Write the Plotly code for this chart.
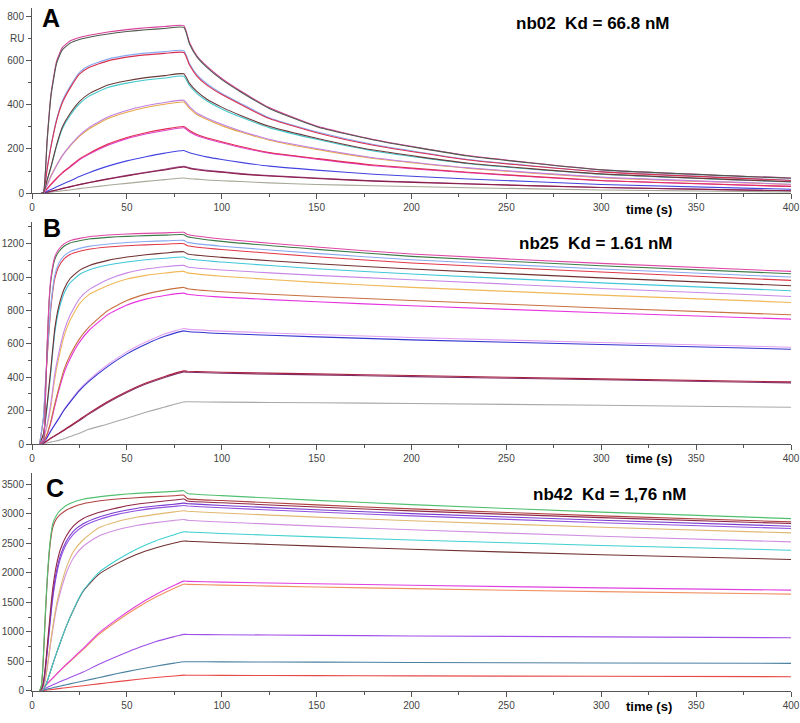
import plotly.graph_objects as go

# ---------------- Panel A (nb02) ----------------
tA = [5, 6, 8, 10, 13, 16, 20, 25, 30, 40, 50, 60, 70, 80, 83, 87, 92, 100, 110, 125, 150, 180, 230, 300, 400]
A_gray_hi = [0, 0, 240, 440, 590, 650, 680, 697, 707, 722, 733, 741, 747, 752, 677, 617, 572, 515, 459, 384, 301, 241, 168, 105, 67]
A_magenta_hi = [0, 0, 245, 450, 600, 660, 690, 706, 716, 731, 742, 750, 756, 760, 683, 622, 577, 520, 463, 388, 304, 243, 170, 106, 68]
A_red_2 = [0, 0, 110, 210, 330, 410, 475, 540, 570, 600, 617, 627, 634, 638, 581, 530, 491, 447, 402, 338, 274, 217, 150, 96, 57]
A_lblue_2 = [0, 0, 112, 214, 336, 418, 483, 548, 578, 608, 625, 635, 642, 646, 588, 536, 497, 452, 407, 342, 278, 220, 152, 97, 58]
A_brown_3 = [0, 0, 60, 120, 220, 300, 360, 415, 450, 490, 510, 524, 533, 541, 498, 460, 427, 390, 352, 303, 249, 195, 135, 87, 51]
A_cyan_3 = [0, 0, 58, 116, 214, 292, 351, 405, 440, 479, 499, 513, 522, 530, 488, 451, 419, 382, 345, 297, 244, 191, 133, 85, 50]
A_violet_4 = [0, 0, 35, 75, 125, 170, 215, 262, 297, 345, 375, 396, 411, 421, 392, 362, 341, 312, 282, 244, 202, 160, 114, 72, 40]
A_orange_4 = [0, 0, 38, 78, 127, 170, 212, 257, 291, 338, 367, 388, 403, 413, 384, 355, 335, 306, 277, 240, 198, 157, 112, 70, 39]
A_red_5 = [0, 0, 20, 40, 68, 93, 120, 155, 180, 222, 252, 274, 290, 302, 284, 266, 251, 233, 211, 184, 157, 127, 94, 57, 30]
A_magenta_5 = [0, 0, 19, 38, 66, 90, 117, 151, 176, 217, 247, 268, 284, 296, 278, 260, 246, 228, 207, 181, 154, 124, 92, 56, 30]
A_blue_6 = [0, 0, 8, 16, 28, 40, 55, 75, 92, 122, 146, 165, 181, 193, 183, 174, 164, 152, 139, 122, 104, 85, 64, 39, 17]
A_maroon_7 = [0, 0, 4, 8, 14, 20, 28, 38, 47, 63, 78, 92, 105, 118, 112, 106, 100, 94, 86, 77, 66, 54, 41, 25, 10]
A_purple_7 = [0, 0, 4, 8, 14, 21, 29, 39, 48, 65, 80, 94, 108, 121, 115, 109, 103, 97, 88, 79, 68, 56, 42, 25, 10]
A_gray_8 = [0, 0, 2, 4, 7, 10, 14, 20, 25, 35, 44, 53, 61, 68, 65, 63, 59, 56, 52, 46, 39, 33, 24, 14, 5]

seriesA = [
    (A_gray_8, "#a8a898"), (A_purple_7, "#a04890"), (A_maroon_7, "#8a2048"),
    (A_blue_6, "#4444e0"), (A_magenta_5, "#e040c8"), (A_red_5, "#e03058"),
    (A_orange_4, "#e8a848"), (A_violet_4, "#c080e0"), (A_cyan_3, "#40c8cc"),
    (A_brown_3, "#6a3a3a"), (A_lblue_2, "#88aaf0"), (A_red_2, "#d83050"),
    (A_magenta_hi, "#d8409a"), (A_gray_hi, "#4e5a4e"),
]

# ---------------- Panel B (nb25) ----------------
tB = [4, 6, 7, 8, 9, 10, 12, 14, 17, 20, 25, 30, 40, 50, 60, 70, 80, 82, 100, 150, 200, 300, 400]
B_magenta = [0, 20, 250, 600, 860, 1000, 1120, 1165, 1200, 1218, 1232, 1242, 1252, 1258, 1262, 1265, 1268, 1255, 1228, 1180, 1138, 1082, 1034]
B_green = [0, 18, 240, 585, 845, 985, 1105, 1150, 1186, 1204, 1218, 1228, 1238, 1244, 1248, 1251, 1254, 1242, 1214, 1166, 1124, 1068, 1020]
B_lblue = [0, 160, 350, 540, 700, 840, 1010, 1080, 1128, 1152, 1172, 1184, 1198, 1207, 1213, 1217, 1220, 1208, 1185, 1142, 1104, 1048, 1000]
B_red = [0, 150, 335, 520, 680, 820, 990, 1060, 1110, 1135, 1155, 1167, 1180, 1188, 1193, 1197, 1200, 1188, 1165, 1122, 1084, 1030, 980]
B_brown = [0, 60, 140, 240, 350, 460, 690, 820, 930, 990, 1040, 1068, 1100, 1120, 1134, 1144, 1152, 1138, 1118, 1080, 1048, 995, 948]
B_cyan = [0, 55, 130, 225, 330, 440, 665, 795, 905, 965, 1015, 1042, 1072, 1090, 1104, 1113, 1120, 1110, 1090, 1050, 1018, 965, 918]
B_violet = [0, 30, 70, 120, 180, 250, 420, 540, 680, 770, 870, 925, 985, 1025, 1048, 1062, 1070, 1060, 1042, 1010, 984, 932, 884]
B_orange = [0, 28, 65, 110, 165, 230, 390, 510, 650, 740, 840, 895, 950, 988, 1010, 1024, 1034, 1025, 1005, 968, 938, 892, 848]
B_sienna = [0, 15, 35, 60, 98, 140, 240, 330, 450, 530, 630, 700, 800, 860, 898, 922, 938, 930, 912, 884, 860, 815, 774]
B_magenta2 = [0, 14, 32, 55, 92, 130, 225, 315, 430, 510, 610, 680, 775, 833, 868, 890, 904, 897, 880, 852, 828, 786, 748]
B_pink = [0, 10, 25, 42, 62, 82, 118, 154, 210, 256, 328, 384, 476, 552, 611, 659, 692, 688, 676, 656, 638, 608, 580]
B_blue = [0, 10, 24, 40, 60, 80, 115, 150, 205, 250, 320, 375, 465, 540, 598, 645, 678, 674, 662, 642, 624, 596, 568]
B_maroon = [0, 5, 12, 20, 28, 36, 50, 64, 86, 108, 146, 185, 255, 315, 365, 405, 438, 436, 430, 420, 410, 390, 372]
B_maroon2 = [0, 5, 12, 19, 27, 35, 48, 62, 83, 104, 141, 179, 249, 309, 359, 399, 432, 430, 424, 414, 404, 385, 366]
B_gray = [0, 3, 5, 8, 10, 12, 17, 22, 32, 45, 65, 88, 120, 155, 190, 222, 252, 253, 251, 247, 243, 232, 220]

seriesB = [
    (B_gray, "#a8a8a8"), (B_maroon2, "#803068"), (B_maroon, "#a82040"),
    (B_pink, "#e0a0f0"), (B_blue, "#3434d0"), (B_magenta2, "#e834e0"),
    (B_sienna, "#c87040"), (B_orange, "#f0b858"), (B_violet, "#c888e8"),
    (B_cyan, "#40c8d8"), (B_brown, "#703030"), (B_red, "#e03848"),
    (B_lblue, "#88aaf0"), (B_green, "#3c7c48"), (B_magenta, "#e048a8"),
]

# ---------------- Panel C (nb42) ----------------
tC = [4, 5, 6, 7, 8, 9, 10, 11, 13, 15, 18, 22, 27, 35, 45, 55, 65, 75, 80, 82, 100, 150, 200, 300, 400]
C_green = [0, 100, 600, 1300, 1900, 2350, 2650, 2840, 2980, 3060, 3140, 3200, 3245, 3285, 3320, 3345, 3362, 3378, 3390, 3341, 3307, 3227, 3155, 3028, 2918]
C_brown = [0, 90, 560, 1250, 1850, 2300, 2600, 2780, 2920, 2990, 3060, 3120, 3170, 3215, 3250, 3272, 3290, 3305, 3315, 3256, 3224, 3150, 3083, 2964, 2862]
C_maroon = [0, 30, 150, 400, 750, 1100, 1450, 1750, 2150, 2400, 2620, 2800, 2920, 3020, 3100, 3160, 3200, 3232, 3250, 3217, 3186, 3114, 3048, 2934, 2834]
C_purple = [0, 25, 130, 360, 680, 1020, 1350, 1640, 2040, 2300, 2530, 2710, 2830, 2940, 3030, 3090, 3130, 3162, 3180, 3172, 3141, 3069, 3003, 2889, 2789]
C_purple2 = [0, 22, 120, 340, 650, 980, 1300, 1580, 1980, 2240, 2480, 2660, 2790, 2900, 2990, 3050, 3095, 3125, 3140, 3132, 3101, 3029, 2964, 2849, 2750]
C_orange = [0, 15, 70, 200, 400, 640, 880, 1100, 1480, 1750, 2080, 2370, 2560, 2760, 2870, 2940, 2990, 3032, 3050, 3042, 3013, 2943, 2881, 2771, 2676]
C_violet = [0, 14, 65, 190, 380, 610, 840, 1050, 1420, 1680, 1990, 2260, 2450, 2620, 2730, 2800, 2850, 2888, 2902, 2890, 2861, 2791, 2729, 2619, 2524]
C_cyan = [0, 5, 30, 80, 160, 260, 360, 460, 650, 830, 1090, 1390, 1700, 2000, 2220, 2400, 2540, 2645, 2695, 2692, 2667, 2609, 2556, 2463, 2383]
C_dbrown = [0, 5, 30, 80, 160, 260, 360, 460, 650, 830, 1090, 1385, 1690, 1970, 2160, 2310, 2420, 2505, 2538, 2535, 2510, 2452, 2399, 2306, 2226]
C_magenta = [0, 30, 60, 92, 125, 158, 190, 222, 290, 355, 450, 570, 720, 975, 1220, 1440, 1630, 1790, 1859, 1855, 1843, 1815, 1790, 1745, 1707]
C_salmon = [0, 30, 60, 91, 123, 155, 187, 218, 284, 348, 440, 557, 703, 950, 1190, 1400, 1585, 1740, 1808, 1805, 1792, 1760, 1732, 1682, 1639]
C_purple3 = [0, 15, 30, 45, 60, 75, 90, 105, 133, 160, 200, 255, 320, 450, 590, 720, 835, 920, 958, 957, 953, 942, 932, 916, 901]
C_steel = [0, 8, 16, 24, 32, 40, 48, 55, 70, 85, 106, 134, 168, 225, 295, 360, 420, 472, 495, 495, 493, 488, 483, 475, 468]
C_red = [0, 4, 8, 12, 16, 20, 24, 28, 36, 44, 56, 71, 90, 120, 158, 194, 228, 255, 268, 267, 265, 260, 256, 249, 242]

seriesC = [
    (C_red, "#e84848"), (C_steel, "#4a80a0"), (C_purple3, "#a050e8"),
    (C_salmon, "#f09060"), (C_magenta, "#e040e0"), (C_dbrown, "#703030"),
    (C_cyan, "#40d0d0"), (C_violet, "#d090e0"), (C_orange, "#e0b870"),
    (C_purple2, "#9050e0"), (C_purple, "#7a3cd0"), (C_maroon, "#902848"),
    (C_brown, "#b04040"), (C_green, "#50c070"),
]

fig = go.Figure()
for xs, series, ax in [(tA, seriesA, "1"), (tB, seriesB, "2"), (tC, seriesC, "3")]:
    for ys, col in series:
        fig.add_trace(go.Scatter(
            x=xs, y=ys, mode="lines",
            line=dict(color=col, width=1.1, shape="spline", smoothing=0.5),
            xaxis="x" if ax == "1" else "x" + ax,
            yaxis="y" if ax == "1" else "y" + ax,
            showlegend=False, hoverinfo="skip"))

FONT = "Liberation Sans, Arial, sans-serif"
axcol = "#555555"
tickfont = dict(family=FONT, size=10, color="#444444")

def xax(anchor):
    return dict(range=[0, 400], tick0=0, dtick=50, ticks="outside", ticklen=5,
                tickcolor=axcol, showline=True, linecolor=axcol, linewidth=1,
                showgrid=False, zeroline=False, tickfont=tickfont, anchor=anchor,
                automargin=False, ticklabeloverflow="allow",
                minor=dict(tick0=0, dtick=25, ticks="outside", ticklen=3, tickcolor=axcol))

def yax(rng, dtick, mdtick, domain, anchor):
    return dict(range=rng, tick0=0, dtick=dtick, ticks="outside", ticklen=5,
                tickcolor=axcol, showline=True, linecolor=axcol, linewidth=1,
                showgrid=False, zeroline=False, tickfont=tickfont, domain=domain,
                anchor=anchor, automargin=False, ticklabeloverflow="allow",
                minor=dict(tick0=0, dtick=mdtick, ticks="outside", ticklen=3, tickcolor=axcol))

fig.update_layout(
    width=800, height=723,
    margin=dict(l=32, r=9, t=8, b=32),
    plot_bgcolor="white", paper_bgcolor="white",
    xaxis=xax("y"), xaxis2=xax("y2"), xaxis3=xax("y3"),
    yaxis=yax([0, 840], 200, 100, [0.7291, 1.0], "x"),
    yaxis2=yax([0, 1330], 200, 100, [0.3616, 0.6867], "x2"),
    yaxis3=yax([0, 3690], 500, 250, [0.0, 0.3192], "x3"),
)

ann = []
for letter, x, y in [("A", 0.025, 0.9854), ("B", 0.0263, 0.6779), ("C", 0.0303, 0.2972)]:
    ann.append(dict(text="<b>%s</b>" % letter, x=x, y=y, xref="paper", yref="paper",
                    showarrow=False, xanchor="center", yanchor="middle",
                    font=dict(family=FONT, size=25, color="black")))
for txt, x, y in [("nb02\u00a0 Kd = 66.8 nM", 0.6355, 0.9766),
                  ("nb25\u00a0 Kd = 1.61 nM", 0.6395, 0.6559),
                  ("nb42\u00a0 Kd = 1,76 nM", 0.6579, 0.287)]:
    ann.append(dict(text="<b>%s</b>" % txt, x=x, y=y, xref="paper", yref="paper",
                    showarrow=False, xanchor="left", yanchor="middle",
                    font=dict(family=FONT, size=17, color="black")))
for y in [0.7057, 0.3411, -0.0234]:
    ann.append(dict(text="<b>time (s)</b>", x=0.8132, y=y, xref="paper", yref="paper",
                    showarrow=False, xanchor="center", yanchor="middle",
                    font=dict(family=FONT, size=13, color="black")))
ann.append(dict(text="RU", x=-0.0197, y=0.956, xref="paper", yref="paper",
                showarrow=False, xanchor="center", yanchor="middle",
                font=dict(family=FONT, size=10, color="#444444")))
fig.update_layout(annotations=ann)

fig.write_html("out.html", config={"displayModeBar": False},
               post_script="document.body.style.margin='0';document.body.style.overflow='hidden';")
